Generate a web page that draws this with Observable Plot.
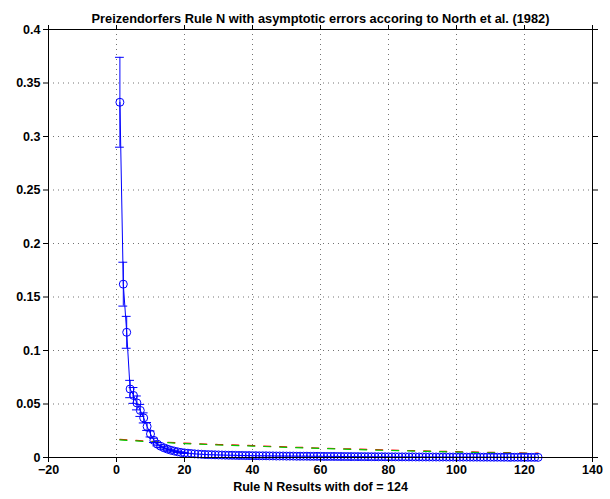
<!DOCTYPE html>
<html>
<head>
<meta charset="utf-8">
<script src="https://cdn.jsdelivr.net/npm/d3@7"></script>
<script src="https://cdn.jsdelivr.net/npm/@observablehq/plot@0.6"></script>
<style>
  html, body { margin: 0; padding: 0; background: white; }
  #chart { width: 610px; height: 499px; }
</style>
</head>
<body>
<div id="chart"></div>
<script>
// ---- data ----
const title = "Preizendorfers Rule N with asymptotic errors accoring to North et al. (1982)";
const xLabel = "Rule N Results with dof = 124";
const xTicks = [-20, 0, 20, 40, 60, 80, 100, 120, 140];
const yTicks = [0, 0.05, 0.1, 0.15, 0.2, 0.25, 0.3, 0.35, 0.4];

// eigenvalue index 1..124
const modes = d3.range(1, 125);
const values = [
  0.332, 0.162, 0.117, 0.064, 0.058, 0.051, 0.044, 0.037, 0.029, 0.022,
  0.016, 0.0125, 0.0105, 0.0090, 0.0078, 0.0068, 0.0060, 0.0053, 0.0047, 0.0043,
  0.0040, 0.0037, 0.0034, 0.0032, 0.0030, 0.0028, 0.0027, 0.0026, 0.0025, 0.0024,
  0.0023, 0.0022, 0.0021, 0.0021, 0.0020, 0.0019, 0.0019, 0.0018, 0.0018, 0.0017,
  0.0017, 0.0016, 0.0016, 0.0016, 0.0015, 0.0015, 0.0014, 0.0014, 0.0014, 0.0013,
  0.0013, 0.0013, 0.0012, 0.0012, 0.0012, 0.0012, 0.0011, 0.0011, 0.0011, 0.0011,
  0.0010, 0.0010, 0.0010, 0.0010, 0.00095, 0.00093, 0.00090, 0.00088, 0.00086, 0.00084,
  0.00082, 0.00080, 0.00078, 0.00076, 0.00074, 0.00072, 0.00070, 0.00069, 0.00067, 0.00065,
  0.00064, 0.00062, 0.00061, 0.00059, 0.00058, 0.00056, 0.00055, 0.00054, 0.00052, 0.00051,
  0.00050, 0.00049, 0.00047, 0.00046, 0.00045, 0.00044, 0.00043, 0.00042, 0.00041, 0.00040,
  0.00039, 0.00038, 0.00037, 0.00036, 0.00035, 0.00034, 0.00033, 0.00032, 0.00031, 0.00030,
  0.00029, 0.00028, 0.00027, 0.00026, 0.00025, 0.00024, 0.00023, 0.00022, 0.00021, 0.00020,
  0.00019, 0.00017, 0.00015, 0.00012
];
// asymptotic error half-widths (visible ones, first 20 modes)
const errors = [
  0.042, 0.0205, 0.0149, 0.0081, 0.0074, 0.0065, 0.0056, 0.0047, 0.0037, 0.0028,
  0.0020, 0.0016, 0.0013, 0.0011, 0.0010, 0.0009, 0.0008, 0.0007, 0.0006, 0.0005
];

// Rule N threshold curves
const ruleModes = [1, 10, 20, 30, 40, 50, 60, 70, 80, 90, 100, 110, 124];
const ruleRed   = [0.0169, 0.0151, 0.0134, 0.0121, 0.0111, 0.0099, 0.0088, 0.0079, 0.0070, 0.0062, 0.0055, 0.0048, 0.0040];
const ruleGreen = [0.0165, 0.0147, 0.0130, 0.0117, 0.0107, 0.0095, 0.0084, 0.0075, 0.0066, 0.0058, 0.0051, 0.0044, 0.0036];

// ---- tables ----
const pts = modes.map((k, i) => ({k, v: values[i]}));
const errPts = errors.map((e, i) => ({k: modes[i], v: values[i], lo: values[i] - e, hi: values[i] + e}));
const red = ruleModes.map((k, i) => ({k, v: ruleRed[i]}));
const green = ruleModes.map((k, i) => ({k, v: ruleGreen[i]}));
const capHalf = 1.3;

const fmtX = d => d < 0 ? "\u2212" + (-d) : String(d);
const fmtY = d => String(+d.toFixed(2));

const chart = Plot.plot({
  width: 610,
  height: 499,
  marginLeft: 48,
  marginRight: 18,
  marginTop: 29,
  marginBottom: 42,
  style: {fontFamily: "'Liberation Sans', Arial, sans-serif", fontSize: "12.5px", fontWeight: "bold", background: "white", color: "black", overflow: "visible"},
  x: {domain: [-20, 140]},
  y: {domain: [0, 0.4]},
  marks: [
    Plot.gridX(xTicks, {stroke: "#000", strokeOpacity: 0.55, strokeDasharray: "1,4"}),
    Plot.gridY(yTicks, {stroke: "#000", strokeOpacity: 0.55, strokeDasharray: "1,4"}),
    Plot.line(red, {x: "k", y: "v", stroke: "#ff0000", strokeWidth: 1.2, strokeDasharray: "7,9"}),
    Plot.line(green, {x: "k", y: "v", stroke: "#00cc00", strokeWidth: 1.2, strokeDasharray: "7,9"}),
    Plot.line(pts, {x: "k", y: "v", stroke: "#0000ff", strokeWidth: 1}),
    Plot.ruleX(errPts, {x: "k", y1: "lo", y2: "hi", stroke: "#0000ff", strokeWidth: 1}),
    Plot.ruleY(errPts, {y: "hi", x1: d => d.k - capHalf, x2: d => d.k + capHalf, stroke: "#0000ff", strokeWidth: 1}),
    Plot.ruleY(errPts, {y: "lo", x1: d => d.k - capHalf, x2: d => d.k + capHalf, stroke: "#0000ff", strokeWidth: 1}),
    Plot.dot(pts, {x: "k", y: "v", r: 4, stroke: "#0000ff", fill: "none", strokeWidth: 1}),
    Plot.frame({stroke: "black", strokeWidth: 1}),
    Plot.axisX({anchor: "bottom", ticks: xTicks, tickSize: 5, tickPadding: 3, tickFormat: fmtX, label: null, fontSize: 12.5}),
    Plot.axisX({anchor: "top", ticks: xTicks, tickSize: 5, tickFormat: () => "", label: null}),
    Plot.axisY({anchor: "left", ticks: yTicks, tickSize: 5, tickPadding: 3, tickFormat: fmtY, label: null, fontSize: 12.5}),
    Plot.axisY({anchor: "right", ticks: yTicks, tickSize: 5, tickFormat: () => "", label: null}),
    Plot.text([title], {frameAnchor: "top", dy: -16, text: d => d, fontSize: 12.8, fontWeight: "bold"}),
    Plot.text([xLabel], {frameAnchor: "bottom", dy: 33.5, text: d => d, fontSize: 12.5, fontWeight: "bold"})
  ]
});
document.getElementById("chart").appendChild(chart);
</script>
</body>
</html>
